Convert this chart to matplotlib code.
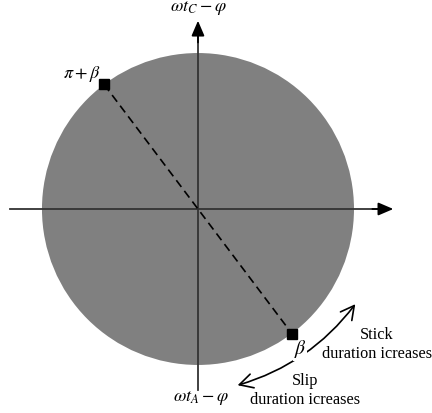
import numpy as np
import matplotlib
matplotlib.use("Agg")
from matplotlib import pyplot as plt
from matplotlib.patches import Circle, FancyArrowPatch

plt.rcParams['mathtext.fontset'] = 'stix'
plt.rcParams['font.family'] = ['Liberation Serif', 'DejaVu Serif']

# chart content
radius = 1.0
beta_deg = -53.0                      # angle of the beta point
marker_angles = [beta_deg + 180.0, beta_deg]
marker_labels = [r'$\pi+\beta$', r'$\beta$']
top_label = r'$\omega t_C-\varphi$'
bottom_label = r'$\omega t_A-\varphi$'
stick_text = 'Stick\nduration icreases'
slip_text = 'Slip\nduration icreases'

fig = plt.figure(figsize=(4.32, 4.13), dpi=100)
ax = fig.add_axes([0, 0, 1, 1])
ax.set_xlim(-1.269, 1.5)
ax.set_ylim(-1.308, 1.340)
ax.axis('off')

# grey disc
ax.add_patch(Circle((0, 0), radius, facecolor='#808080', edgecolor='none', zorder=1))

# axes with arrow heads
ax.plot([-1.205, 1.2], [0, 0], color='#333333', lw=1.3, zorder=2)
ax.plot([0, 0], [-1.16, 1.15], color='#333333', lw=1.3, zorder=2)
ax.annotate('', xy=(1.27, 0), xytext=(1.1, 0),
            arrowprops=dict(arrowstyle='-|>,head_length=0.7,head_width=0.3',
                            color='black', lw=1.3, mutation_scale=13), zorder=3)
ax.annotate('', xy=(0, 1.225), xytext=(0, 1.05),
            arrowprops=dict(arrowstyle='-|>,head_length=0.7,head_width=0.3',
                            color='black', lw=1.3, mutation_scale=13), zorder=3)

# dashed diameter and end markers
ang = np.radians(marker_angles)
px = radius * np.cos(ang)
py = radius * np.sin(ang)
ax.plot(px, py, color='black', ls=(0, (5, 3)), lw=1.2, zorder=3)
ax.plot(px, py, ls='none', marker='s', ms=6.5, color='black', zorder=8)

ax.text(-0.745, 0.866, marker_labels[0], fontsize=13, ha='center', va='center')
ax.text(0.655, -0.9, marker_labels[1], fontsize=14, ha='center', va='center',
        zorder=6, bbox=dict(facecolor='white', edgecolor='none', pad=0.3))

ax.text(0.0, 1.29, top_label, fontsize=13, ha='center', va='center')
ax.text(0.02, -1.215, bottom_label, fontsize=13, ha='center', va='center')

# curved double arrow
arc = FancyArrowPatch((0.237, -1.135), (1.019, -0.596),
                      connectionstyle='arc3,rad=0.17',
                      arrowstyle='<->,head_length=0.6,head_width=0.32',
                      mutation_scale=16, color='black', lw=1.2, zorder=5)
ax.add_patch(arc)

ax.text(1.147, -0.87, stick_text, fontsize=11.7, ha='center', va='center',
        linespacing=1.2)
ax.text(0.686, -1.165, slip_text, fontsize=11.7, ha='center', va='center',
        linespacing=1.2)

fig.savefig('out.png', dpi=100)
